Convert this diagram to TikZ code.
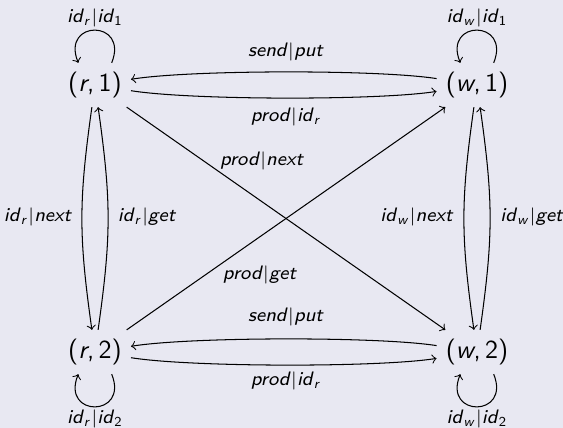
\documentclass[tikz,border=0pt]{standalone}
\usepackage{amsmath}
\newcommand\vv[1]{\textsf{\textit{#1}}}
\newcommand\dd[1]{\textsf{#1}}
\newcommand\br{{|}}
\definecolor{bgc}{RGB}{232,232,242}
\begin{document}
\begin{tikzpicture}[x=0.385pt,y=-0.385pt,>=to,
  st/.style={font=\fontsize{10}{12}\selectfont\sffamily},
  lb/.style={font=\fontsize{7.5}{9}\selectfont, inner sep=1pt},
  hb/.style={bend right=9, looseness=0.5},
  vb/.style={bend right=8, looseness=1.1},
  lp/.style={looseness=3.6}]
\fill[bgc] (0,0) rectangle (563,428);
\useasboundingbox (0,0) rectangle (563,428);
\node[st] (r1) at (95,85) {(\textit{r},\,1)};
\node[st] (w1) at (477,85) {(\textit{w},\,1)};
\node[st] (r2) at (95,352) {(\textit{r},\,2)};
\node[st] (w2) at (477,352) {(\textit{w},\,2)};
% horizontal
\draw[->] (w1) to[hb] (r1);
\draw[->] (r1) to[hb] (w1);
\draw[->] (w2) to[hb] (r2);
\draw[->] (r2) to[hb] (w2);
% vertical
\draw[->] (r1) to[vb] (r2);
\draw[->] (r2) to[vb] (r1);
\draw[->] (w1) to[vb] (w2);
\draw[->] (w2) to[vb] (w1);
% diagonals
\draw[->] (r1) -- (w2);
\draw[->] (r2) -- (w1);
% loops
\draw[->] (r1.53) to[out=68,in=112,lp] (r1.127);
\draw[->] (w1.53) to[out=68,in=112,lp] (w1.127);
\draw[->] (r2.-53) to[out=-68,in=-112,lp] (r2.-127);
\draw[->] (w2.-53) to[out=-68,in=-112,lp] (w2.-127);
% labels
\node[lb] (l1) at (95,18) {$\vv{id}_{\vv{r}}\br\vv{id}_{\dd{1}}$};
\node[lb] (l2) at (477,18) {$\vv{id}_{\vv{w}}\br\vv{id}_{\dd{1}}$};
\node[lb] (l3) at (95,419) {$\vv{id}_{\vv{r}}\br\vv{id}_{\dd{2}}$};
\node[lb] (l4) at (477,419) {$\vv{id}_{\vv{w}}\br\vv{id}_{\dd{2}}$};
\node[lb] (l5) at (286,52) {$\vv{send}\br\vv{put}$};
\node[lb] (l6) at (286,117) {$\vv{prod}\br\vv{id}_{\vv{r}}$};
\node[lb] (l7) at (286,317) {$\vv{send}\br\vv{put}$};
\node[lb] (l8) at (286,381) {$\vv{prod}\br\vv{id}_{\vv{r}}$};
\node[lb] (l9) at (38,217) {$\vv{id}_{\vv{r}}\br\vv{next}$};
\node[lb] (l10) at (147,217) {$\vv{id}_{\vv{r}}\br\vv{get}$};
\node[lb] (l11) at (417,217) {$\vv{id}_{\vv{w}}\br\vv{next}$};
\node[lb] (l12) at (532,217) {$\vv{id}_{\vv{w}}\br\vv{get}$};
\node[lb] (l13) at (262,161) {$\vv{prod}\br\vv{next}$};
\node[lb] (l14) at (260,275) {$\vv{prod}\br\vv{get}$};
\end{tikzpicture}
\end{document}
